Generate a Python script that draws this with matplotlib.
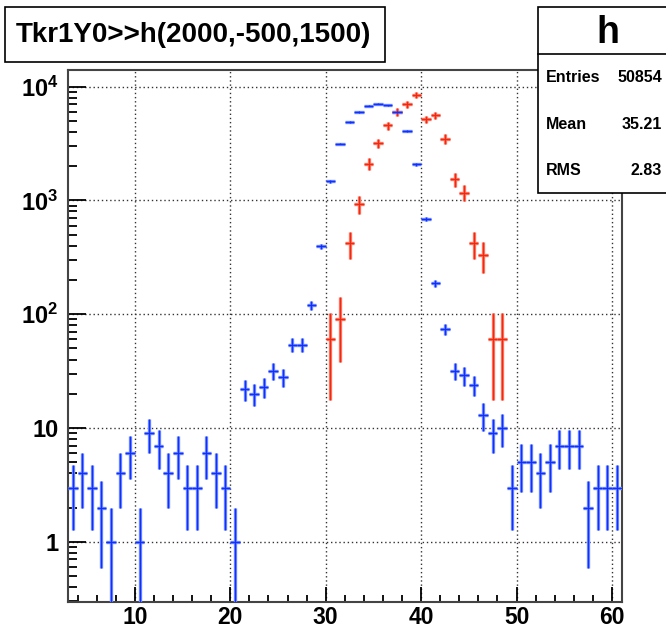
import numpy as np
import matplotlib
matplotlib.use("Agg")
import matplotlib.pyplot as plt
from matplotlib.patches import Rectangle
from matplotlib.lines import Line2D
from matplotlib.ticker import FixedLocator, LogLocator, FuncFormatter, NullFormatter

plt.rcParams['font.family'] = ['Liberation Sans', 'DejaVu Sans']
plt.rcParams['font.weight'] = 'bold'
plt.rcParams['mathtext.fontset'] = 'custom'
plt.rcParams['mathtext.bf'] = 'Liberation Sans:bold'
plt.rcParams['mathtext.rm'] = 'Liberation Sans:bold'

# blue histogram: bin centres 3.5 .. 60.5, raw counts
blue_x = np.arange(3.5, 61.0, 1.0)
blue_y = [3, 4, 3, 2, 1, 4, 6, 1, 9, 7, 4, 6, 3, 3, 6, 4, 3, 1,
          22, 20, 23, 32, 28, 54, 54, 121, 395, 1470, 3160, 4900,
          6000, 6800, 7050, 6880, 5980, 4060, 2070, 690, 187, 74,
          32, 29, 24, 13, 9, 10, 3, 5, 5, 4, 5, 7, 7, 7, 2, 3, 3, 3]

# red histogram: scaled by red_scale, bin centres 30.5 .. 48.5
red_x = np.arange(30.5, 49.0, 1.0)
red_y = [60, 90, 420, 930, 2100, 3180, 4560, 6000, 6990, 8430,
         5160, 5580, 3480, 1530, 1170, 420, 330, 60, 60]
red_scale = 30

title = "Tkr1Y0>>h(2000,-500,1500)"
stats_name = "h"
stats_rows = [("Entries", "50854"), ("Mean", "35.21"), ("RMS", "2.83")]

W, H = 666, 629
fig = plt.figure(figsize=(W / 100, H / 100), dpi=100)
fig.patch.set_facecolor('white')


def fx(px):
    return px / W


def fy(py):
    return 1 - py / H


ax = fig.add_axes([fx(68), fy(602), fx(622) - fx(68), fy(70) - fy(602)])
ax.set_yscale('log')
ax.set_xlim(3.0, 61.05)
ax.set_ylim(0.296, 14000)


def draw_hist(x, y, err, col, halo):
    y = np.asarray(y, dtype=float)
    err = np.asarray(err, dtype=float)
    lo = np.minimum(err, y - 1e-3)
    ax.errorbar(x, y, xerr=0.5, yerr=[lo, err], fmt='none', ecolor=halo,
                elinewidth=2.4, capsize=0, zorder=3)
    ax.errorbar(x, y, xerr=0.5, yerr=[lo, err], fmt='none', ecolor=col,
                elinewidth=1.0, capsize=0, zorder=4)


red_arr = np.array(red_y, dtype=float)
draw_hist(red_x, red_arr, np.sqrt(red_arr * red_scale), '#f02a10', '#ff7f6c')
blue_arr = np.array(blue_y, dtype=float)
draw_hist(blue_x, blue_arr, np.sqrt(blue_arr), '#1030ff', '#7890ff')

ax.xaxis.set_major_locator(FixedLocator([10, 20, 30, 40, 50, 60]))
ax.xaxis.set_minor_locator(FixedLocator(np.arange(4, 61, 2)))
ax.yaxis.set_major_locator(FixedLocator([1, 10, 100, 1000, 10000]))
ax.yaxis.set_minor_locator(LogLocator(base=10, subs=np.arange(2, 10)))
ax.yaxis.set_minor_formatter(NullFormatter())


def ylab(v, pos):
    if v < 5:
        return '1'
    if v < 50:
        return '10'
    return r'$\mathbf{10^{%d}}$' % int(round(np.log10(v)))


ax.yaxis.set_major_formatter(FuncFormatter(ylab))

ax.tick_params(axis='x', which='major', direction='in', length=11, width=1.3,
               labelsize=16.5, pad=3)
ax.tick_params(axis='x', which='minor', direction='in', length=5, width=1.3)
ax.tick_params(axis='y', which='major', direction='in', length=13, width=1.3,
               labelsize=17, pad=7)
ax.tick_params(axis='y', which='minor', direction='in', length=6.5, width=1.3)
for lab in ax.get_xticklabels() + ax.get_yticklabels():
    lab.set_fontweight('bold')

ax.grid(True, which='major', color='#333333', linestyle=(0, (1, 2)),
        linewidth=1.0)
for s in ax.spines.values():
    s.set_linewidth(1.5)
    s.set_color('#444444')

# title box
fig.patches.append(Rectangle((fx(5), fy(62)), fx(385) - fx(5), fy(7) - fy(62),
                             transform=fig.transFigure, fill=True,
                             facecolor='white', edgecolor='black', lw=1.2))
fig.text(fx(193), fy(35), title, ha='center', va='center', fontsize=20,
         fontweight='bold')

# stats box (runs off the right edge, as in the original canvas)
fig.patches.append(Rectangle((fx(538), fy(193)), fx(680) - fx(538),
                             fy(7) - fy(193), transform=fig.transFigure,
                             facecolor='white', edgecolor='black', lw=1.2))
fig.lines.append(Line2D([fx(538), fx(680)], [fy(54), fy(54)],
                        transform=fig.transFigure, color='black', lw=1.2))
fig.text(fx(608), fy(33), stats_name, ha='center', va='center', fontsize=27,
         fontweight='bold')
for i, (k, v) in enumerate(stats_rows):
    yy = fy(78 + i * 46.3)
    fig.text(fx(546), yy, k, ha='left', va='center', fontsize=11.5,
             fontweight='bold')
    fig.text(fx(662), yy, v, ha='right', va='center', fontsize=11.5,
             fontweight='bold')

fig.savefig('out.png', dpi=100)
